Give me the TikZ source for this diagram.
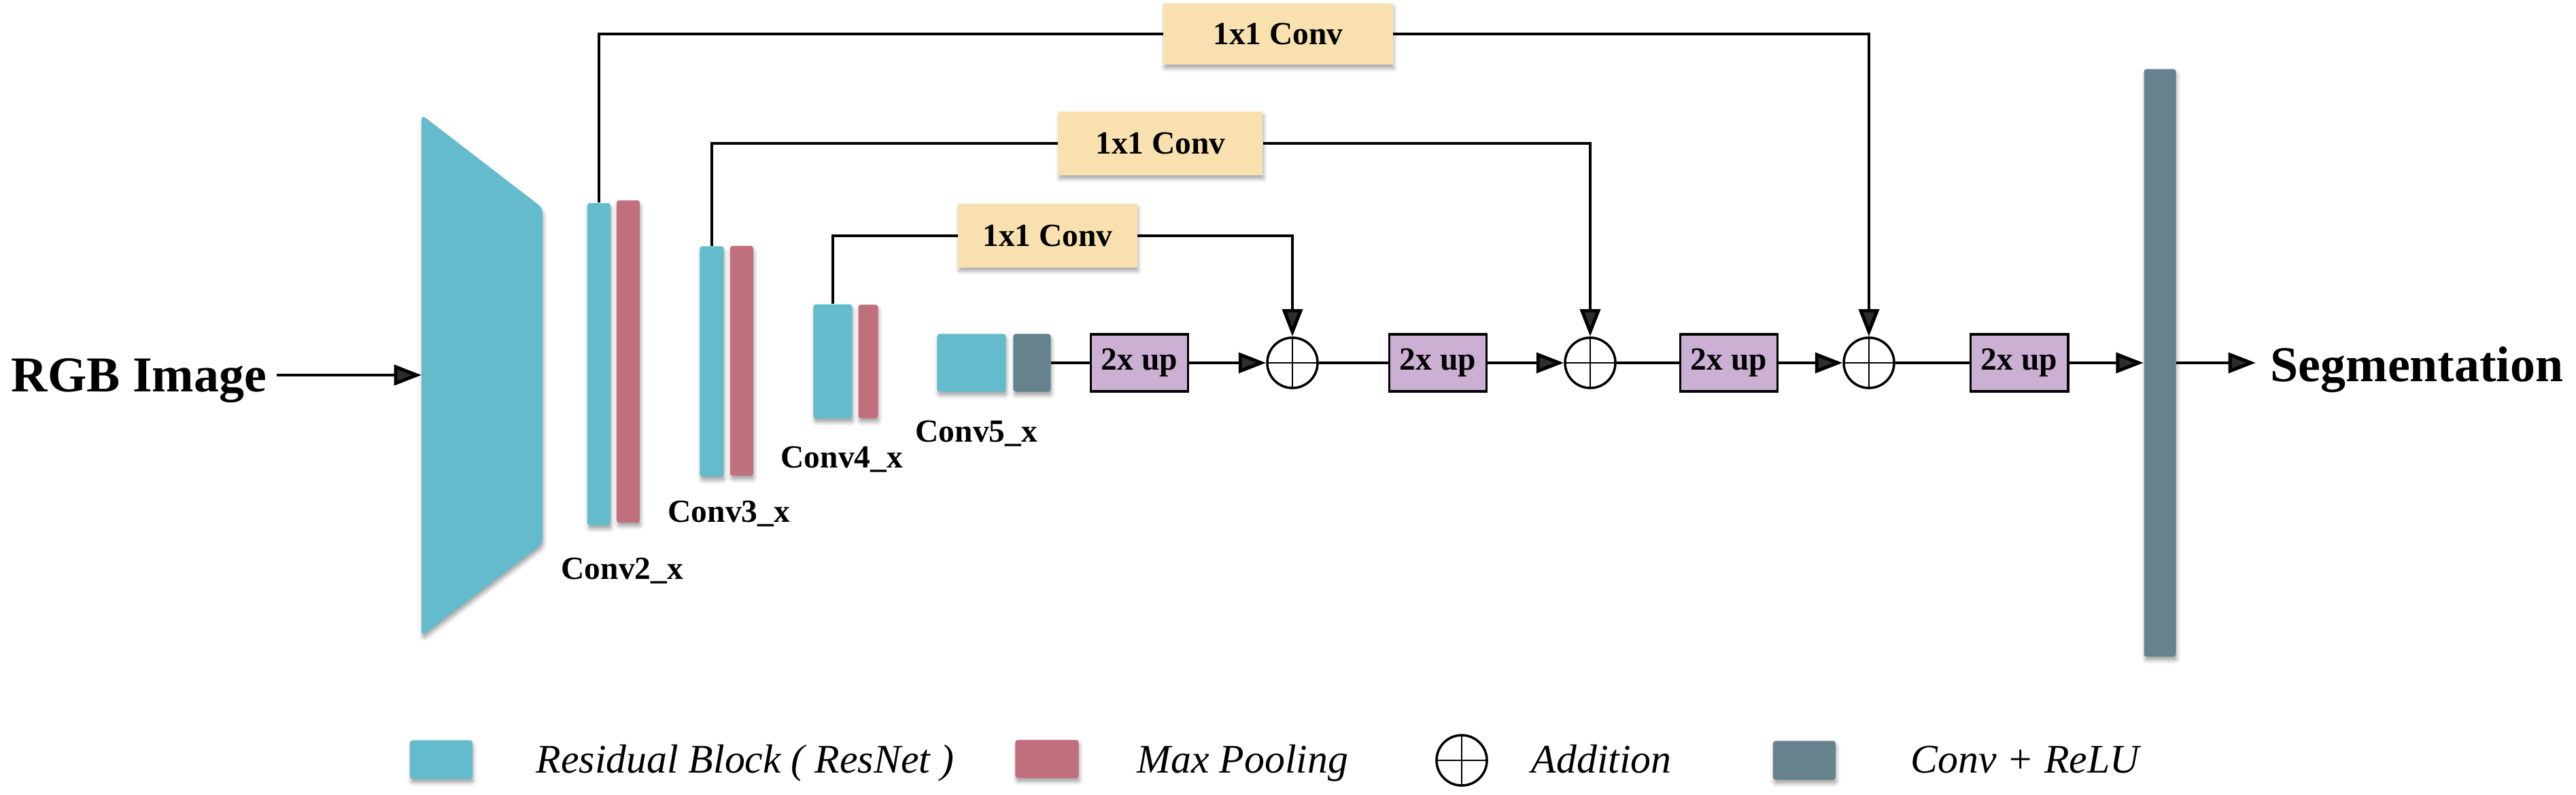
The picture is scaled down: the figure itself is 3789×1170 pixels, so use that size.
\documentclass[tikz,border=0pt]{standalone}
\usepackage{fontspec}
\setmainfont{Liberation Serif}
\usetikzlibrary{arrows.meta,shadows.blur}

\definecolor{resblue}{RGB}{99,187,203}
\definecolor{poolred}{RGB}{192,111,124}
\definecolor{relugray}{RGB}{102,131,141}
\definecolor{convtan}{RGB}{248,225,174}
\definecolor{uplilac}{RGB}{204,176,212}

\begin{document}
\begin{tikzpicture}[x=0.01cm, y=-0.01cm,
    softshadow/.style={blur shadow={shadow xshift=0.4pt, shadow yshift=-1.6pt,
        shadow blur radius=1.6pt, shadow opacity=35}},
    bar/.style={rectangle, inner sep=0pt, rounded corners=1pt, softshadow},
    res/.style={bar, fill=resblue},
    pool/.style={bar, fill=poolred},
    relu/.style={bar, fill=relugray},
    lbl/.style={inner sep=0pt, anchor=base west, font=\bfseries\fontsize{13.5}{16}\selectfont},
    big/.style={inner ysep=0pt, anchor=base west, font=\bfseries\fontsize{21}{25}\selectfont},
    legtxt/.style={inner sep=0pt, anchor=base west, font=\itshape\fontsize{17}{20}\selectfont},
    convbox/.style={rectangle, fill=convtan, inner sep=0pt, softshadow,
        font=\bfseries\fontsize{13.5}{16}\selectfont},
    upbox/.style={rectangle, draw, line width=1.1pt, fill=uplilac, inner sep=0pt,
        minimum width=1.43cm, minimum height=0.84cm,
        font=\bfseries\fontsize{13.5}{16}\selectfont},
    addop/.style={circle, draw, line width=1pt, minimum size=0.74cm, inner sep=0pt,
        path picture={\draw[line width=0.7pt]
            (path picture bounding box.north) -- (path picture bounding box.south)
            (path picture bounding box.west) -- (path picture bounding box.east);}},
    link/.style={line width=1.4pt},
    arr/.style={link, -{Triangle[length=11.5pt, width=8.5pt]}}
  ]
  \useasboundingbox (0,0) rectangle (3789,1170);

  % input and encoder stem
  \fill[resblue, rounded corners=2pt, softshadow]
    (620,169) -- (798,306) -- (798,800) -- (620,936) -- cycle;
  \coordinate (enc) at (620,552);
  \node[big, inner xsep=0.14cm] (rgb) at (2,576) {RGB Image};
  \draw[arr] (rgb.east |- enc) -- (enc);

  % encoder stages
  \node[res, minimum width=0.34cm, minimum height=4.74cm] (c2res) at (881,536) {};
  \node[pool, minimum width=0.34cm, minimum height=4.74cm] (c2pool) at (924,532) {};
  \node[res, minimum width=0.35cm, minimum height=3.39cm] (c3res) at (1047,532) {};
  \node[pool, minimum width=0.34cm, minimum height=3.38cm] (c3pool) at (1091,531) {};
  \node[res, minimum width=0.57cm, minimum height=1.68cm] (c4res) at (1225,532) {};
  \node[pool, minimum width=0.29cm, minimum height=1.67cm] (c4pool) at (1277,532) {};
  \node[res, minimum width=1.01cm, minimum height=0.85cm] (c5res) at (1429,534) {};
  \node[relu, minimum width=0.55cm, minimum height=0.85cm] (c5relu) at (1518,534) {};

  \node[lbl] (c2lbl) at (825,852) {Conv2\_x};
  \node[lbl] (c3lbl) at (982,768) {Conv3\_x};
  \node[lbl] (c4lbl) at (1148,688) {Conv4\_x};
  \node[lbl] (c5lbl) at (1346,650) {Conv5\_x};

  % lateral 1x1 convs
  \node[convbox, minimum width=3.37cm, minimum height=0.9cm] (skip2) at (1880,50) {1x1 Conv};
  \node[convbox, minimum width=3.0cm, minimum height=0.93cm] (skip3) at (1707,211) {1x1 Conv};
  \node[convbox, minimum width=2.63cm, minimum height=0.93cm] (skip4) at (1541,347) {1x1 Conv};

  % decoder
  \node[upbox] (up1) at (1676,534) {2x up};
  \node[addop] (add1) at (1901,534) {};
  \node[upbox] (up2) at (2115,534) {2x up};
  \node[addop] (add2) at (2339,534) {};
  \node[upbox] (up3) at (2543,534) {2x up};
  \node[addop] (add3) at (2749,534) {};
  \node[upbox] (up4) at (2970,534) {2x up};
  \node[relu, minimum width=0.47cm, minimum height=8.64cm] (out) at (3177,534) {};
  \node[big, inner xsep=0.21cm] (seg) at (3318,561) {Segmentation};

  \draw[link] (c5relu) -- (up1);
  \draw[arr] (up1) -- (add1);
  \draw[link] (add1) -- (up2);
  \draw[arr] (up2) -- (add2);
  \draw[link] (add2) -- (up3);
  \draw[arr] (up3) -- (add3);
  \draw[link] (add3) -- (up4);
  \draw[arr] (up4) -- (out);
  \draw[arr] (out.east) -- (out.east -| seg.west);

  \draw[link] (c2res.north) |- (skip2);
  \draw[arr] (skip2) -| (add3);
  \draw[link] (c3res.north) |- (skip3);
  \draw[arr] (skip3) -| (add2);
  \draw[link] (c4res.north) |- (skip4);
  \draw[arr] (skip4) -| (add1);

  % legend
  \node[res, minimum width=0.92cm, minimum height=0.57cm] (lgres) at (649,1118) {};
  \node[legtxt] (lgrestxt) at (788,1137) {Residual Block ( ResNet )};
  \node[pool, minimum width=0.93cm, minimum height=0.56cm] (lgpool) at (1540,1117) {};
  \node[legtxt] (lgpooltxt) at (1672,1137) {Max Pooling};
  \node[addop] (lgadd) at (2150,1119) {};
  \node[legtxt] (lgaddtxt) at (2252,1137) {Addition};
  \node[relu, minimum width=0.92cm, minimum height=0.57cm] (lgrelu) at (2654,1119) {};
  \node[legtxt] (lgrelutxt) at (2810,1137) {Conv + ReLU};
\end{tikzpicture}
\end{document}
